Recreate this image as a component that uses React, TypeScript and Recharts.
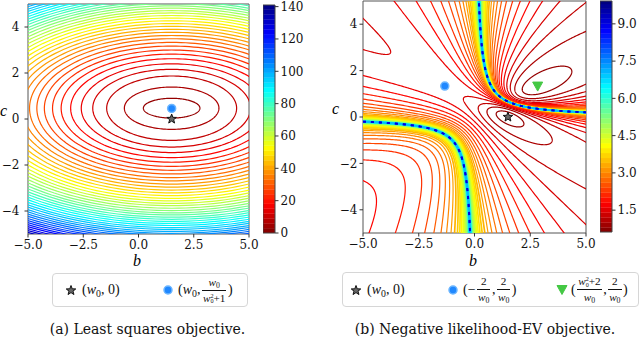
import React from 'react';
import { ComposedChart, Line, XAxis, YAxis, ReferenceArea, Scatter } from 'recharts';

const FONT = '"DejaVu Serif", serif';
const MATH = '"Liberation Serif", "DejaVu Serif", serif';

// ---------------- (a) Least squares objective ----------------
const lsLevels = [3, 6, 9, 12, 15, 18, 21, 24, 27, 30, 33, 36, 39, 42, 45, 48, 51, 54, 57, 60, 63, 66, 69, 72, 75, 78, 81, 84, 87, 90, 93, 96, 99, 102, 105, 108, 111, 114, 117, 120, 123, 126, 129, 132, 135, 138, 141];
// half-width (along b) and half-height (along c) of each level's ellipse
const lsHalfB = [1.28, 2.14, 2.94, 3.57, 4.09, 4.57, 5.0, 5.39, 5.76, 6.1, 6.43, 6.74, 7.03, 7.32, 7.59, 7.86, 8.11, 8.36, 8.6, 8.83, 9.06, 9.28, 9.5, 9.71, 9.92, 10.12, 10.32, 10.52, 10.71, 10.9, 11.09, 11.27, 11.45, 11.63, 11.8, 11.97, 12.14, 12.31, 12.47, 12.64, 12.79, 12.95, 13.11, 13.26, 13.42, 13.57, 13.72];
const lsHalfC = [0.43, 0.92, 1.4, 1.69, 1.93, 2.15, 2.35, 2.53, 2.7, 2.86, 3.02, 3.16, 3.3, 3.43, 3.56, 3.68, 3.8, 3.92, 4.03, 4.14, 4.24, 4.35, 4.45, 4.55, 4.64, 4.74, 4.83, 4.92, 5.01, 5.1, 5.19, 5.27, 5.36, 5.44, 5.52, 5.6, 5.68, 5.76, 5.83, 5.91, 5.98, 6.06, 6.13, 6.2, 6.28, 6.35, 6.42];
const lsCentreB = 1.5;
const lsCentreC = 0.47;
const lsTrue = [{ x: 1.5, y: 0 }];
const lsOptimum = [{ x: 1.5, y: 0.46 }];
const lsBarEdges = [0, 3, 6, 9, 12, 15, 18, 21, 24, 27, 30, 33, 36, 39, 42, 45, 48, 51, 54, 57, 60, 63, 66, 69, 72, 75, 78, 81, 84, 87, 90, 93, 96, 99, 102, 105, 108, 111, 114, 117, 120, 123, 126, 129, 132, 135, 138, 141];
const lsBarTicks = [0, 20, 40, 60, 80, 100, 120, 140];

// ---------------- (b) Negative likelihood-EV objective ----------------
const evLevels = [0.8, 1.0, 1.2, 1.4, 1.6, 1.8, 2.0, 2.2, 2.4, 2.6, 2.8, 3.0, 3.2, 3.4, 3.6, 3.8, 4.0, 4.2, 4.4, 4.6, 4.8, 5.2, 5.5, 5.8, 6.2, 6.6, 7.0, 9.0];
// contour lines in the band between the two ridges: conic shape per level (centre, semi-axes, tilt)
const evLowShape = ['e', 'e', 'e', 'h', 'h', 'h', 'h', 'h', 'h', 'h', 'h', 'h', 'h', 'h', 'h', 'h', 'h', 'h', 'h', 'h', 'h', 'h', 'h', 'h', 'h', 'h', 'h', 'h'];
const evLowCb = [1.594, 2.022, 4.826, -2.129, -0.4025, -0.0573, 0.0641, 0.1107, 0.1251, 0.1242, 0.1159, 0.1044, 0.0919, 0.0796, 0.0681, 0.0577, 0.0486, 0.0407, 0.034, 0.0282, 0.0234, 0.016, 0.0119, 0.0089, 0.006, 0.004, 0.0027, 0.0004];
const evLowCc = [-0.0841, -0.3841, -2.003, 1.7897, 0.7682, 0.5148, 0.3887, 0.3079, 0.2495, 0.2044, 0.1683, 0.139, 0.1148, 0.0948, 0.0783, 0.0645, 0.0532, 0.0438, 0.036, 0.0296, 0.0243, 0.0164, 0.0122, 0.009, 0.0061, 0.0041, 0.0027, 0.0004];
const evLowA = [0.6646, 1.6014, 5.2537, 1.9057, 0.5083, 0.6815, 0.7986, 0.893, 0.9729, 1.0414, 1.1003, 1.1509, 1.1941, 1.2307, 1.2617, 1.2877, 1.3096, 1.3278, 1.3429, 1.3555, 1.3659, 1.3816, 1.3899, 1.3962, 1.4021, 1.4061, 1.4088, 1.4135];
const evLowB = [0.2542, 0.4877, 0.8944, 0.398, 1.4502, 1.5017, 1.4826, 1.4626, 1.4476, 1.4371, 1.4298, 1.4248, 1.4214, 1.4191, 1.4175, 1.4164, 1.4157, 1.4152, 1.4149, 1.4147, 1.4145, 1.4144, 1.4142, 1.4142, 1.4142, 1.4142, 1.4142, 1.4142];
const evLowTilt = [-22.34, -25.19, -27.93, -30.49, 57.2, 55.2, 53.46, 52.0, 50.77, 49.74, 48.9, 48.2, 47.62, 47.15, 46.76, 46.44, 46.18, 45.97, 45.79, 45.65, 45.53, 45.36, 45.26, 45.2, 45.13, 45.09, 45.06, 45.01];
// contour lines beyond the ridges (upper-right and lower-left regions)
const evHighShape = ['e', 'e', 'e', 'h', 'h', 'h', 'h', 'h', 'h', 'h', 'h', 'h', 'h', 'h', 'h', 'h', 'h', 'h', 'h', 'h', 'h', 'h', 'h', 'h', 'h', 'h', 'h', 'h'];
const evHighCb = [3.253, 4.9287, 14.901, -9.1917, -2.9794, -1.5954, -1.0017, -0.6804, -0.4845, -0.3559, -0.2674, -0.2043, -0.1581, -0.1236, -0.0975, -0.0774, -0.0618, -0.0495, -0.0399, -0.0322, -0.026, -0.0172, -0.0126, -0.0093, -0.0062, -0.0041, -0.0028, -0.0004];
const evHighCc = [1.5753, 2.5227, 8.073, -5.273, -1.8088, -1.0233, -0.6771, -0.4832, -0.3601, -0.2757, -0.215, -0.1697, -0.1352, -0.1084, -0.0873, -0.0706, -0.0572, -0.0465, -0.0378, -0.0308, -0.0251, -0.0167, -0.0124, -0.0091, -0.0061, -0.0041, -0.0027, -0.0004];
const evHighA = [1.1888, 3.4159, 14.989, 12.442, 5.2473, 3.5927, 2.8549, 2.4387, 2.1738, 1.9926, 1.8626, 1.7663, 1.6932, 1.6369, 1.5929, 1.5582, 1.5305, 1.5085, 1.4908, 1.4764, 1.4649, 1.4479, 1.4391, 1.4326, 1.4265, 1.4224, 1.4197, 1.4149];
const evHighB = [0.4548, 1.0402, 2.5516, 2.5984, 1.839, 1.6304, 1.5378, 1.4889, 1.4609, 1.444, 1.4334, 1.4268, 1.4225, 1.4197, 1.4178, 1.4166, 1.4158, 1.4153, 1.4149, 1.4147, 1.4145, 1.4144, 1.4142, 1.4142, 1.4142, 1.4142, 1.4142, 1.4142];
const evHighTilt = [22.34, 25.19, 27.93, 30.49, 32.79, 34.8, 36.53, 38.0, 39.23, 40.26, 41.1, 41.8, 42.38, 42.85, 43.24, 43.56, 43.82, 44.03, 44.21, 44.35, 44.47, 44.64, 44.74, 44.8, 44.87, 44.91, 44.94, 44.99];
const evTrue = [{ x: 1.5, y: 0 }];
const evSaddle = [{ x: -1.333, y: 1.333 }];
const evLocalMin = [{ x: 2.833, y: 1.333 }];
const evBarEdges = [0.6, 0.8, 1.0, 1.2, 1.4, 1.6, 1.8, 2.0, 2.2, 2.4, 2.6, 2.8, 3.0, 3.2, 3.4, 3.6, 3.8, 4.0, 4.2, 4.4, 4.6, 4.8, 5.0, 5.2, 5.4, 5.6, 5.8, 6.0, 6.2, 6.4, 6.6, 6.8, 7.0, 7.2, 7.4, 7.6, 7.8, 8.0, 8.2, 8.4, 8.6, 8.8, 9.0, 9.2, 9.4, 9.6, 9.8, 10.0];
const evBarTicks = [1.5, 3.0, 4.5, 6.0, 7.5, 9.0];

const axisTicksB = [-5, -2.5, 0, 2.5, 5];
const axisTicksC = [-4, -2, 0, 2, 4];

// ---------------- helpers ----------------
function jet(x: number) {
  const cl = (v: number) => Math.max(0, Math.min(1, v));
  const r = cl(Math.min(4 * x - 1.5, -4 * x + 4.5));
  const g = cl(Math.min(4 * x - 0.5, -4 * x + 3.5));
  const b = cl(Math.min(4 * x + 0.5, -4 * x + 2.5));
  return `rgb(${Math.round(r * 255)},${Math.round(g * 255)},${Math.round(b * 255)})`;
}
const jetR = (t: number) => jet(1 - Math.max(0, Math.min(1, t)));
const lsColour = (v: number) => jetR(v / 141);
const evColour = (v: number) => jetR((v - 0.6) / 9.3);

function conicPoints(cb: number, cc: number, a: number, b: number, tiltDeg: number, shape: string, branch: number, n?: number) {
  const th = (tiltDeg * Math.PI) / 180;
  const ex = Math.cos(th);
  const ey = Math.sin(th);
  const pts: { x: number; y: number }[] = [];
  if (shape === 'e') {
    const m = n || 720;
    for (let i = 0; i <= m; i++) {
      const p = (2 * Math.PI * i) / m;
      const u = a * Math.cos(p);
      const v = b * Math.sin(p);
      pts.push({ x: cb + u * ex - v * ey, y: cc + u * ey + v * ex });
    }
  } else {
    const m = 300;
    const tMax = 3;
    for (let i = 0; i <= m; i++) {
      const t = -tMax + (2 * tMax * i) / m;
      const u = branch * a * Math.cosh(t);
      const v = b * Math.sinh(t);
      pts.push({ x: cb + u * ex - v * ey, y: cc + u * ey + v * ex });
    }
  }
  return pts;
}

const fmtB = (v: number) => (v < 0 ? '\u2212' : '') + Math.abs(v).toFixed(1);
const fmtC = (v: number) => (v < 0 ? '\u2212' : '') + Math.abs(v).toFixed(0);

const tickStyle = { fontSize: 12, fontFamily: FONT, fill: '#111' };

const StarShape = (props: any) => {
  const { cx, cy } = props;
  if (cx == null || cy == null) return null;
  const R = 5;
  const r = 2.1;
  let d = '';
  for (let k = 0; k < 10; k++) {
    const ang = -Math.PI / 2 + (k * Math.PI) / 5;
    const rad = k % 2 === 0 ? R : r;
    d += (k === 0 ? 'M' : 'L') + (cx + rad * Math.cos(ang)).toFixed(2) + ',' + (cy + rad * Math.sin(ang)).toFixed(2);
  }
  return <path d={d + 'Z'} fill="#666" stroke="#111" strokeWidth={1} strokeLinejoin="round" />;
};
const DotShape = (props: any) => {
  const { cx, cy } = props;
  if (cx == null || cy == null) return null;
  return <circle cx={cx} cy={cy} r={4} fill="#2088ff" stroke="#6cb6ff" strokeWidth={1.5} />;
};
const TriShape = (props: any) => {
  const { cx, cy } = props;
  if (cx == null || cy == null) return null;
  return <path d={`M${cx - 5},${cy - 4}L${cx + 5},${cy - 4}L${cx},${cy + 5}Z`} fill="#44c844" stroke="#44c844" strokeWidth={1} />;
};

// ---------------- chart pieces ----------------
function ContourPanel(props: any) {
  const { curves, markers, tickMarginC } = props;
  return (
    <ComposedChart width={props.width} height={props.height} margin={props.margin}>
      <XAxis
        type="number"
        dataKey="x"
        domain={[-5, 5]}
        allowDataOverflow
        ticks={axisTicksB}
        tickFormatter={fmtB}
        tick={tickStyle}
        tickLine={{ stroke: '#333' }}
        axisLine={false}
        tickSize={3.5}
        tickMargin={2.5}
        height={36}
        interval={0}
      />
      <YAxis
        type="number"
        dataKey="y"
        domain={[-5, 5]}
        allowDataOverflow
        ticks={axisTicksC}
        tickFormatter={fmtC}
        tick={tickStyle}
        tickLine={{ stroke: '#333' }}
        axisLine={false}
        tickSize={3.5}
        tickMargin={tickMarginC}
        width={28}
        interval={0}
      />
      {curves.map((c: any) => (
        <Line
          key={c.key}
          data={c.pts}
          dataKey="y"
          type="linear"
          stroke={c.col}
          strokeWidth={c.w || 1.2}
          strokeDasharray={c.dash}
          dot={false}
          activeDot={false}
          isAnimationActive={false}
          legendType="none"
        />
      ))}
      <ReferenceArea x1={-5} x2={5} y1={-5} y2={5} fill="none" fillOpacity={0} stroke="#555" strokeWidth={1} ifOverflow="visible" />
      {markers.map((m: any) => (
        <Scatter key={m.key} data={m.data} dataKey="y" shape={m.shape} isAnimationActive={false} legendType="none" />
      ))}
    </ComposedChart>
  );
}

function ColourBar(props: any) {
  const { edges, domain, ticks, colour, fmt, height, top } = props;
  const bands = edges.slice(0, -1).map((e: number, i: number) => ({ y1: e, y2: edges[i + 1], col: colour((e + edges[i + 1]) / 2) }));
  return (
    <ComposedChart width={44} height={height} margin={{ top, right: 0, bottom: 12, left: 0 }} data={[{ x: 0 }, { x: 1 }]}>
      <XAxis type="number" dataKey="x" domain={[0, 1]} hide />
      <YAxis
        type="number"
        orientation="right"
        domain={domain}
        allowDataOverflow
        ticks={ticks}
        tickFormatter={fmt}
        tick={tickStyle}
        tickLine={{ stroke: '#333' }}
        axisLine={false}
        tickSize={3.5}
        tickMargin={2}
        width={32}
        interval={0}
      />
      {bands.map((b: any, i: number) => (
        <ReferenceArea key={i} x1={0} x2={1} y1={b.y1} y2={b.y2} fill={b.col} fillOpacity={1} stroke={b.col} strokeWidth={0.3} ifOverflow="hidden" />
      ))}
      <ReferenceArea x1={0} x2={1} y1={domain[0]} y2={domain[1]} fill="none" fillOpacity={0} stroke="#444" strokeWidth={1} ifOverflow="visible" />
    </ComposedChart>
  );
}

const W0 = () => (
  <span>
    <i>w</i>
    <span style={{ fontSize: '0.7em', verticalAlign: '-0.3em', lineHeight: 0 }}>0</span>
  </span>
);
const W0sq = () => (
  <span style={{ whiteSpace: 'nowrap' }}>
    <i>w</i>
    <span style={{ display: 'inline-flex', flexDirection: 'column', fontSize: '0.55em', lineHeight: 0.85, verticalAlign: 'middle' }}>
      <span>2</span>
      <span>0</span>
    </span>
  </span>
);
const Frac = (props: any) => (
  <span style={{ display: 'inline-flex', flexDirection: 'column', alignItems: 'center', verticalAlign: 'middle', fontSize: '0.8em', lineHeight: 1.15, margin: '0 1.5px' }}>
    <span style={{ padding: '0 1px 1px' }}>{props.n}</span>
    <span style={{ borderTop: '0.8px solid #111', padding: '1px 1px 0', alignSelf: 'stretch', textAlign: 'center' }}>{props.d}</span>
  </span>
);

const LegendStar = () => (
  <svg width={14} height={14} style={{ position: 'absolute' }}>
    <StarShape cx={7} cy={7.5} />
  </svg>
);
const LegendDot = () => (
  <svg width={14} height={14} style={{ position: 'absolute' }}>
    <DotShape cx={7} cy={7} />
  </svg>
);
const LegendTri = () => (
  <svg width={14} height={14} style={{ position: 'absolute' }}>
    <TriShape cx={7} cy={6.5} />
  </svg>
);

export default function App() {
  const lsCurves = lsLevels.map((lv, i) => ({
    key: 'ls' + i,
    pts: conicPoints(lsCentreB, lsCentreC, lsHalfB[i], lsHalfC[i], 0, 'e', 1, 180),
    col: lsColour(lv),
  }));

  const evCurves: any[] = [];
  evLevels.forEach((lv, i) => {
    const col = evColour(lv);
    const w = lv >= 9 ? 1.9 : lv >= 3.4 ? 1.7 : 1.2;
    const dash = lv >= 9 ? '3 5' : undefined;
    const lowBranches = evLowShape[i] === 'e' ? [1] : [1, -1];
    lowBranches.forEach((br) =>
      evCurves.push({ key: `lo${i}_${br}`, lv, col, w, dash, pts: conicPoints(evLowCb[i], evLowCc[i], evLowA[i], evLowB[i], evLowTilt[i], evLowShape[i], br) })
    );
    const highBranches = evHighShape[i] === 'e' ? [1] : [1, -1];
    highBranches.forEach((br) =>
      evCurves.push({ key: `hi${i}_${br}`, lv, col, w, dash, pts: conicPoints(evHighCb[i], evHighCc[i], evHighA[i], evHighB[i], evHighTilt[i], evHighShape[i], br) })
    );
  });

  const lsMarkers = [
    { key: 'opt', data: lsOptimum, shape: DotShape },
    { key: 'true', data: lsTrue, shape: StarShape },
  ];
  const evMarkers = [
    { key: 'sad', data: evSaddle, shape: DotShape },
    { key: 'tri', data: evLocalMin, shape: TriShape },
    { key: 'true', data: evTrue, shape: StarShape },
  ];

  const boxStyle: any = {
    position: 'absolute',
    border: '1px solid #d6d6d6',
    borderRadius: 4,
    background: '#fff',
    fontFamily: MATH,
    fontSize: 14,
    color: '#111',
  };
  const item = (left: number): any => ({ position: 'absolute', left, top: 0, height: '100%', display: 'flex', alignItems: 'center', whiteSpace: 'nowrap' });

  return (
    <div style={{ position: 'absolute', left: 0, top: 0, width: 640, height: 362, background: '#fff', overflow: 'hidden', fontFamily: FONT }}>
      <div style={{ position: 'absolute', left: 0, top: 0 }}>
        <ContourPanel width={266} height={270} margin={{ top: 4, right: 17, bottom: 0, left: 0 }} curves={lsCurves} markers={lsMarkers} tickMarginC={5} />
      </div>
      <div style={{ position: 'absolute', left: 263, top: 0 }}>
        <ColourBar edges={lsBarEdges} domain={[0, 141]} ticks={lsBarTicks} colour={lsColour} fmt={(v: number) => String(v)} height={245} top={5} />
      </div>
      <div style={{ position: 'absolute', left: 335, top: 0 }}>
        <ContourPanel width={268} height={269} margin={{ top: 1, right: 17, bottom: 0, left: 0 }} curves={evCurves} markers={evMarkers} tickMarginC={2} />
      </div>
      <div style={{ position: 'absolute', left: 600, top: 0 }}>
        <ColourBar edges={evBarEdges} domain={[0.62, 9.92]} ticks={evBarTicks} colour={evColour} fmt={(v: number) => v.toFixed(1)} height={244} top={1} />
      </div>

      {/* axis labels */}
      <div style={{ position: 'absolute', left: 133, top: 252, fontFamily: MATH, fontStyle: 'italic', fontSize: 16 }}>b</div>
      <div style={{ position: 'absolute', left: 0, top: 102, fontFamily: MATH, fontStyle: 'italic', fontSize: 16 }}>c</div>
      <div style={{ position: 'absolute', left: 469, top: 252, fontFamily: MATH, fontStyle: 'italic', fontSize: 16 }}>b</div>
      <div style={{ position: 'absolute', left: 332, top: 100, fontFamily: MATH, fontStyle: 'italic', fontSize: 16 }}>c</div>

      {/* legend (a) */}
      <div style={{ ...boxStyle, left: 52, top: 273, width: 194, height: 32 }}>
        <div style={item(11)}><LegendStar /></div>
        <div style={item(29)}>(<W0 />, 0)</div>
        <div style={item(108)}><LegendDot /></div>
        <div style={item(125)}>(<W0 />, <Frac n={<W0 />} d={<span><W0sq />+1</span>} />)</div>
      </div>

      {/* legend (b) */}
      <div style={{ ...boxStyle, left: 342, top: 272, width: 295, height: 33 }}>
        <div style={item(6)}><LegendStar /></div>
        <div style={item(24)}>(<W0 />, 0)</div>
        <div style={item(103)}><LegendDot /></div>
        <div style={item(120)}>(−<Frac n="2" d={<W0 />} />, <Frac n="2" d={<W0 />} />)</div>
        <div style={item(212)}><LegendTri /></div>
        <div style={item(228)}>(<Frac n={<span><W0sq />+2</span>} d={<W0 />} />, <Frac n="2" d={<W0 />} />)</div>
      </div>

      {/* captions */}
      <div style={{ position: 'absolute', left: 0, width: 295, top: 321, textAlign: 'center', fontFamily: FONT, fontSize: 14, color: '#111' }}>(a) Least squares objective.</div>
      <div style={{ position: 'absolute', left: 335, width: 300, top: 321, textAlign: 'center', fontFamily: FONT, fontSize: 14, color: '#111' }}>(b) Negative likelihood-EV objective.</div>
    </div>
  );
}
